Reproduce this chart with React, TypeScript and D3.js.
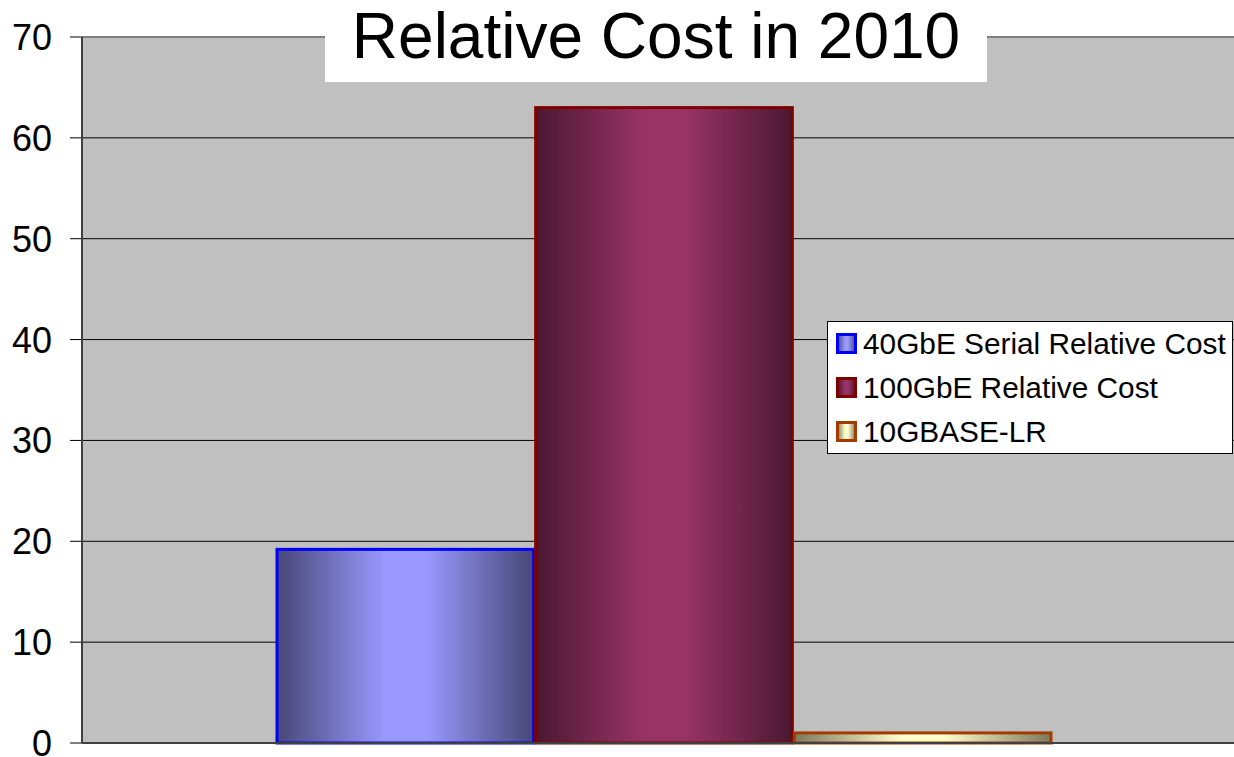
import React from "react";
import * as d3 from "d3";

const seriesNames = ["40GbE Serial Relative Cost", "100GbE Relative Cost", "10GBASE-LR"];
const seriesValues = [19.2, 63, 1];
const yTicks = [0, 10, 20, 30, 40, 50, 60, 70];
const category = ["2010"];
const title = "Relative Cost in 2010";

const fills = [
  { edge: "#474777", mid: "#9999ff", stroke: "#0000ff" },
  { edge: "#4a1830", mid: "#993366", stroke: "#800000" },
  { edge: "#7a7a60", mid: "#ffffcc", stroke: "#a33b00" },
];

export default function App() {
  const W = 1234, H = 757;
  const left = 82, right = 1246, top = 37, bottom = 743;
  const y = d3.scaleLinear().domain([0, 70]).range([bottom, top]);
  const x0 = d3.scaleBand().domain(category).range([left, right]).paddingOuter(0.25);
  const groupStart = left + (right - left) * (0.75 / 4.5);
  const groupWidth = (right - left) * (3 / 4.5);
  const x1 = d3.scaleBand().domain(seriesNames).range([groupStart, groupStart + groupWidth]);
  const font = "Arial, 'Liberation Sans', sans-serif";
  return (
    <svg width={W} height={H} style={{ position: "absolute", left: 0, top: 0 }} fontFamily={font}>
      <defs>
        {fills.map((f, i) => (
          <linearGradient key={i} id={`g${i}`} x1="0" x2="1" y1="0" y2="0">
            <stop offset="0" stopColor={f.edge} />
            <stop offset="0.42" stopColor={f.mid} />
            <stop offset="0.58" stopColor={f.mid} />
            <stop offset="1" stopColor={f.edge} />
          </linearGradient>
        ))}
      </defs>
      <rect x={0} y={0} width={W} height={H} fill="#ffffff" />
      <rect x={left} y={top} width={right - left} height={bottom - top} fill="#c0c0c0" />
      {yTicks.map((t) => (
        <g key={t}>
          {t > 0 && (
            <line x1={left} x2={right} y1={y(t)} y2={y(t)} stroke={t === 70 ? "#808080" : "#000"} strokeWidth={t === 70 ? 2 : 1} />
          )}
          <line x1={70} x2={left} y1={y(t)} y2={y(t)} stroke="#000" strokeWidth={1} />
          <text x={52} y={y(t)} dy="0.36em" textAnchor="end" fontSize={36} fill="#000">{t}</text>
        </g>
      ))}
      <line x1={left} x2={left} y1={top} y2={bottom} stroke="#404040" strokeWidth={2} />
      {seriesNames.map((s, i) => {
        const bx = x1(s)!;
        const bw = x1.bandwidth();
        return (
          <rect key={s} x={bx + 1} y={y(seriesValues[i])} width={bw - 2} height={bottom - y(seriesValues[i])}
            fill={`url(#g${i})`} stroke={fills[i].stroke} strokeWidth={3} />
        );
      })}
      <line x1={left} x2={right} y1={bottom} y2={bottom} stroke="#404040" strokeWidth={2} />
      <rect x={325} y={0} width={662} height={82} fill="#ffffff" />
      <text x={656} y={58} textAnchor="middle" fontSize={64} fill="#000">{title}</text>
      <rect x={827.5} y={321.5} width={405} height={132} fill="#fff" stroke="#000" strokeWidth={1} />
      {seriesNames.map((s, i) => (
        <g key={s} transform={`translate(0, ${i * 44})`}>
          <rect x={837.5} y={334.5} width={18} height={18} fill={`url(#g${i})`} stroke={fills[i].stroke} strokeWidth={3} />
          <text x={863} y={354} fontSize={29.8} fill="#000">{s}</text>
        </g>
      ))}
    </svg>
  );
}
